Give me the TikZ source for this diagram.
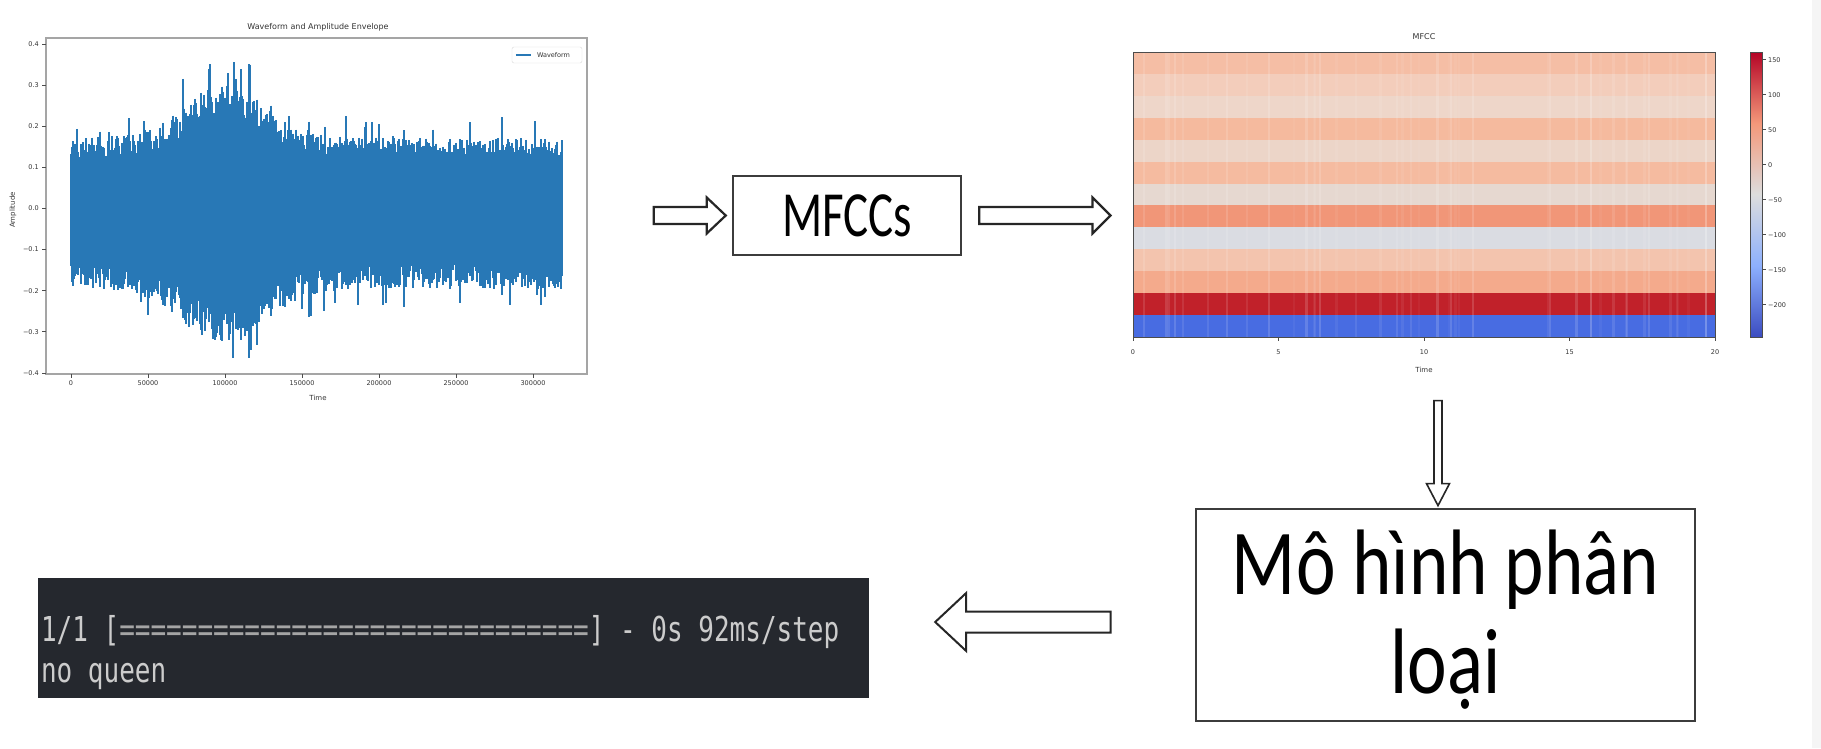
\documentclass[tikz,border=0pt]{standalone}
\usepackage{fontspec}
\usepackage{graphicx}
\usetikzlibrary{calc, positioning}
\newfontfamily\plotfont{DejaVu Sans}
\newfontfamily\boxfont{Carlito}
\newfontfamily\termfont{DejaVu Sans Mono}
\definecolor{waveBlue}{RGB}{40,120,182}
\definecolor{spineGrey}{RGB}{165,165,165}
\definecolor{frameGrey}{RGB}{60,60,60}
\definecolor{termBg}{RGB}{37,40,46}
\definecolor{termText}{RGB}{204,204,204}
\definecolor{termDim}{RGB}{165,165,165}
\definecolor{cwA}{RGB}{59,76,192}
\definecolor{cwB}{RGB}{141,176,254}
\definecolor{cwC}{RGB}{221,221,221}
\definecolor{cwD}{RGB}{244,152,122}
\definecolor{cwE}{RGB}{180,4,38}
\pgfdeclareverticalshading{coolwarm}{100bp}{color(0bp)=(cwA); color(25bp)=(cwA); color(37.5bp)=(cwB); color(50bp)=(cwC); color(62.5bp)=(cwD); color(75bp)=(cwE); color(100bp)=(cwE)}

\begin{document}
\begin{tikzpicture}[x=1pt, y=-1pt,
    every node/.style={inner sep=0pt},
    ticklabel/.style={font=\plotfont\fontsize{6.5}{7}\selectfont, text=black!80},
    plottitle/.style={font=\plotfont\fontsize{8}{9}\selectfont, text=black!80},
    wave/.style={draw=waveBlue, line width=1.15pt},
    spine/.style={draw=spineGrey, line width=1.2pt},
    tickmark/.style={draw=black!70, line width=0.8pt},
    boxframe/.style={draw=frameGrey, line width=2.8pt, fill=white},
    hollow/.style={draw=black!85, line width=2.2pt, fill=white, line join=miter},
    termline/.style={anchor=base west, font=\termfont\fontsize{26}{30}\selectfont, text=termText},
]
\useasboundingbox (0,0) rectangle (1821,748);
\fill[white] (0,0) rectangle (1821,748);
\fill[black!4] (1812,0) rectangle (1821,748);

% waveform plot
\pgfmathsetseed{42}
\foreach \px in {71,...,562}{
  \pgfmathsetmacro\env{exp(max(-9,-((\px-225)/58)*((\px-225)/58)))}
  \pgfmathsetmacro\wtop{max(62,208.5-411*(0.15+0.11*\env)*(0.8+0.35*rnd)*(rnd<0.1 ? 1.3 : 1))}
  \pgfmathsetmacro\wbot{min(358,208.5+411*(0.17+0.12*\env)*(0.8+0.35*rnd)*(rnd<0.1 ? 1.28 : 1))}
  \draw[wave] (\px,\wtop) -- (\px,\wbot);
}
\node[spine, minimum width=541pt, minimum height=336pt] (wave) at (316.5,206) {};
\foreach \v/\t [count=\i] in {0.4/0.4, 0.3/0.3, 0.2/0.2, 0.1/0.1, 0/0.0, -0.1/−0.1, -0.2/−0.2, -0.3/−0.3, -0.4/−0.4}{
  \draw[tickmark] (42,{208.5-411*\v}) -- (46,{208.5-411*\v});
  \node[ticklabel, anchor=east] (wy\i) at (39,{208.5-411*\v}) {\t};
}
\foreach \t [count=\i from 0] in {0,50000,100000,150000,200000,250000,300000}{
  \draw[tickmark] ({71+77*\i},374) -- ({71+77*\i},378);
  \node[ticklabel] (wx\i) at ({71+77*\i},383.5) {\t};
}
\node[plottitle] (wtitle) at (318,27) {Waveform and Amplitude Envelope};
\node[ticklabel, font=\plotfont\fontsize{7}{8}\selectfont] (wxlab) at (318,398) {Time};
\node[ticklabel, font=\plotfont\fontsize{7}{8}\selectfont, rotate=90] (wylab) at (13,210) {Amplitude};
\node[draw=black!15, fill=white, rounded corners=2pt, minimum width=70pt, minimum height=16pt] (legend) at (547,55) {};
\draw[waveBlue, line width=1.5pt] ($(legend.west)+(4,0)$) -- ++(15,0);
\node[ticklabel, anchor=west] (legtext) at ($(legend.west)+(25,0)$) {Waveform};

% MFCC plot
\foreach \rv/\gv/\bv [count=\k from 0] in {245/190/165, 243/205/187, 238/214/201, 245/186/158, 236/213/200, 245/187/160, 230/216/208, 241/150/120, 218/220/226, 243/196/174, 244/170/140, 193/33/42, 72/108/226}{
  \fill[fill={rgb,255:red,\rv;green,\gv;blue,\bv}] (1133,{52+21.92*\k}) rectangle (1715,{52+21.92*(\k+1)});
}
\foreach \s in {1,...,45}{
  \pgfmathsetmacro\sx{1135+576*rnd}
  \pgfmathsetmacro\so{0.04+0.12*rnd}
  \fill[white, opacity=\so] (\sx,52) rectangle (\sx+2.2,337);
}
\node[draw=black!70, line width=1pt, minimum width=582pt, minimum height=285pt] (mfccplot) at (1424,194.5) {};
\node[plottitle] (mtitle) at (1424,37) {MFCC};
\foreach \t [count=\i from 0] in {0,5,10,15,20}{
  \draw[tickmark] ({1133+145.5*\i},337) -- ({1133+145.5*\i},341);
  \node[ticklabel] (mx\i) at ({1133+145.5*\i},352) {\t};
}
\node[ticklabel, font=\plotfont\fontsize{7}{8}\selectfont] (mxlab) at (1424,370) {Time};
\shade[shading=coolwarm] (1750,52) rectangle (1762,337);
\node[draw=black!70, line width=0.8pt, minimum width=12pt, minimum height=285pt] (cbar) at (1756,194.5) {};
\foreach \v/\t [count=\i] in {150/150, 100/100, 50/50, 0/0, -50/−50, -100/−100, -150/−150, -200/−200}{
  \draw[tickmark] (1762,{52+(161-\v)*0.7}) -- (1766,{52+(161-\v)*0.7});
  \node[ticklabel, anchor=west] (cb\i) at (1768,{52+(161-\v)*0.7}) {\t};
}

% boxes
\node[boxframe, line width=2.5pt, minimum width=228pt, minimum height=79pt] (mfccs) at (847,215.5) {\scalebox{1}[1.37]{\boxfont\fontsize{47}{50}\selectfont MFCCs}};
\node[boxframe, minimum width=499pt, minimum height=212pt] (model) at (1445.5,615) {};
\node (modeltext) at ([yshift=-9pt]model.center) {\scalebox{1}[1.24]{\boxfont\fontsize{75}{80}\selectfont\begin{tabular}{@{}c@{}}Mô hình phân\\loại\end{tabular}}};
\node[fill=termBg, minimum width=831pt, minimum height=120pt] (term) at (453.5,638) {};
\node[termline] (line1) at ($(term.north west)+(3,64)$) {\scalebox{1}[1.32]{1/1 [\textcolor{termDim}{==============================}] - 0s 92ms/step}};
\node[termline] (line2) at ($(term.north west)+(3,105)$) {\scalebox{1}[1.32]{no queen}};

% block arrows
\coordinate (a1s) at ($(mfccs.west)+(-78,0)$);
\coordinate (a1e) at ($(mfccs.west)+(-6,0)$);
\draw[hollow] ($(a1s)+(0,-8.5)$) -- ($(a1e)+(-19,-8.5)$) -- ($(a1e)+(-19,-18)$) -- (a1e) -- ($(a1e)+(-19,18)$) -- ($(a1e)+(-19,8.5)$) -- ($(a1s)+(0,8.5)$) -- cycle;
\coordinate (a2s) at ($(mfccs.east)+(17,0)$);
\coordinate (a2e) at ($(mfccs.east -| mfccplot.west)+(-22,0)$);
\draw[hollow] ($(a2s)+(0,-8.5)$) -- ($(a2e)+(-18,-8.5)$) -- ($(a2e)+(-18,-18)$) -- (a2e) -- ($(a2e)+(-18,18)$) -- ($(a2e)+(-18,8.5)$) -- ($(a2s)+(0,8.5)$) -- cycle;
\coordinate (a3s) at ($(model.north)+(-7.5,-107)$);
\coordinate (a3e) at ($(model.north)+(-7.5,-2)$);
\draw[hollow, line width=1.6pt] ($(a3s)+(-4,0)$) -- ($(a3e)+(-4,-22)$) -- ($(a3e)+(-11.5,-22)$) -- (a3e) -- ($(a3e)+(11.5,-22)$) -- ($(a3e)+(4,-22)$) -- ($(a3s)+(4,0)$) -- cycle;
\coordinate (a4s) at ($(model.west)+(-84,7)$);
\coordinate (a4e) at ($(term.east |- a4s)+(66,0)$);
\draw[hollow, line width=2pt] ($(a4s)+(0,-10.5)$) -- ($(a4e)+(31,-10.5)$) -- ($(a4e)+(31,-29)$) -- (a4e) -- ($(a4e)+(31,29)$) -- ($(a4e)+(31,10.5)$) -- ($(a4s)+(0,10.5)$) -- cycle;
\end{tikzpicture}
\end{document}
